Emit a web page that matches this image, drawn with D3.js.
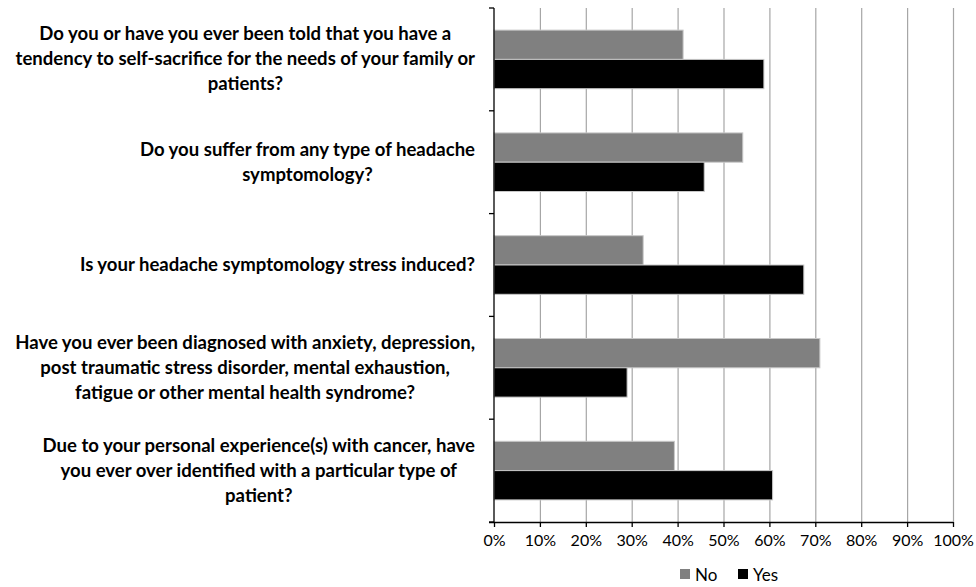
<!DOCTYPE html>
<html>
<head>
<meta charset="utf-8">
<script src="https://cdn.jsdelivr.net/npm/d3@7"></script>
<style>
  html, body { margin: 0; padding: 0; background: #fff; }
  svg { display: block; }
</style>
</head>
<body>
<svg id="chart" width="976" height="587"></svg>
<script>
// Survey questions, top to bottom, each split into its display lines
const questions = [
  ["Do you or have you ever been told that you have a", "tendency to self-sacrifice for the needs of your family or", "patients?"],
  ["Do you suffer from any type of headache", "symptomology?"],
  ["Is your headache symptomology stress induced?"],
  ["Have you ever been diagnosed with anxiety, depression,", "post traumatic stress disorder, mental exhaustion,", "fatigue or other mental health syndrome?"],
  ["Due to your personal experience(s) with cancer, have", "you ever over identified with a particular type of", "patient?"]
];
const seriesNames = ["No", "Yes"];
const noValues  = [41.2, 54.2, 32.5, 71.0, 39.3];
const yesValues = [58.8, 45.8, 67.5, 29.0, 60.7];
const xTicks = [0, 10, 20, 30, 40, 50, 60, 70, 80, 90, 100];

const colors = { No: "#808080", Yes: "#000000" };

const svg = d3.select("#chart");
const plot = { left: 494, right: 953, top: 8, bottom: 522 };

const x = d3.scaleLinear().domain([0, 100]).range([plot.left, plot.right]);
const idx = questions.map((_, i) => i);
const y = d3.scaleBand().domain(idx).range([plot.top, plot.bottom])
  .paddingInner(0.43).paddingOuter(0.215);
const ySub = d3.scaleBand().domain(seriesNames).range([0, y.bandwidth()]);

// vertical gridlines
svg.append("g").selectAll("line").data(xTicks.slice(1)).join("line")
  .attr("x1", d => x(d) + 0.5).attr("x2", d => x(d) + 0.5)
  .attr("y1", plot.top).attr("y2", plot.bottom)
  .attr("stroke", "#a6a6a6").attr("stroke-width", 1.2);

// bars
const rows = idx.map(i => ({ i, No: noValues[i], Yes: yesValues[i] }));
const groups = svg.append("g").selectAll("g").data(rows).join("g")
  .attr("transform", d => `translate(0,${y(d.i)})`);
groups.selectAll("rect").data(d => seriesNames.map(k => ({ k, v: d[k] }))).join("rect")
  .attr("x", x(0))
  .attr("y", d => ySub(d.k))
  .attr("width", d => x(d.v) - x(0))
  .attr("height", ySub.bandwidth())
  .attr("fill", d => colors[d.k])
  .attr("stroke", "#c8c8c8").attr("stroke-width", 1);

// category axis: line with ticks at band boundaries
const yEdges = idx.map(i => plot.top + i * y.step()).concat([plot.bottom]);
const axisG = svg.append("g").attr("stroke", "#000").attr("stroke-width", 1.3);
axisG.append("line").attr("x1", plot.left).attr("x2", plot.left)
  .attr("y1", plot.top).attr("y2", plot.bottom);
axisG.selectAll("line.tk").data(yEdges).join("line").attr("class", "tk")
  .attr("x1", plot.left - 5).attr("x2", plot.left)
  .attr("y1", d => d).attr("y2", d => d);

// value axis
const xAxis = d3.axisBottom(x).tickValues(xTicks).tickFormat(d => d + "%")
  .tickSize(5).tickPadding(8).tickSizeOuter(0);
const xg = svg.append("g").attr("transform", `translate(0,${plot.bottom})`).call(xAxis);
xg.select(".domain").attr("stroke", "#000").attr("stroke-width", 1.3)
  .attr("d", `M${plot.left - 5},0.5H${plot.right}`);
xg.selectAll(".tick line").attr("stroke", "#000").attr("stroke-width", 1.3);
xg.selectAll(".tick text").attr("fill", "#000")
  .style("font-family", "Lato, 'Open Sans', sans-serif").style("font-size", "16px");

// question labels: each block centred on itself, block right edge at labelRight
const labelRight = 475;
const lineH = 25;
const labelG = svg.append("g")
  .style("font-family", "Lato, 'Open Sans', sans-serif")
  .style("font-weight", "700")
  .style("font-size", "18px")
  .attr("fill", "#000");
const blocks = labelG.selectAll("text").data(rows).join("text")
  .attr("text-anchor", "middle");
blocks.each(function (d) {
  const t = d3.select(this);
  const lines = questions[d.i];
  const cy = y(d.i) + y.bandwidth() / 2;
  lines.forEach((ln, j) => {
    t.append("tspan").attr("y", cy + (j - (lines.length - 1) / 2) * lineH + 6).text(ln);
  });
});
// size the font so the widest line spans the available width
let maxW = 0;
labelG.selectAll("tspan").each(function () { maxW = Math.max(maxW, this.getComputedTextLength()); });
const fs = 18 * 460 / maxW;
labelG.style("font-size", fs + "px");
blocks.each(function () {
  let w = 0;
  d3.select(this).selectAll("tspan").each(function () { w = Math.max(w, this.getComputedTextLength()); });
  d3.select(this).selectAll("tspan").attr("x", labelRight - w / 2);
});

// legend
const legend = svg.append("g").attr("transform", "translate(680,569)")
  .style("font-family", "Lato, 'Open Sans', sans-serif").style("font-size", "17px");
const legX = { No: 0, Yes: 58 };
seriesNames.forEach(k => {
  const g = legend.append("g").attr("transform", `translate(${legX[k]},0)`);
  g.append("rect").attr("width", 10).attr("height", 10).attr("fill", colors[k]);
  g.append("text").attr("x", 15).attr("y", 10).attr("dy", "0.1em").attr("fill", "#000").text(k);
});
</script>
</body>
</html>
